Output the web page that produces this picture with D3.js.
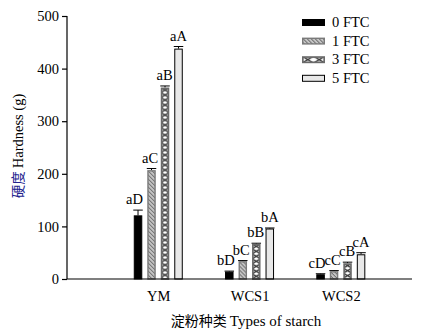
<!DOCTYPE html>
<html><head><meta charset="utf-8">
<script src="https://cdn.jsdelivr.net/npm/d3@7"></script>
<style>body{margin:0;background:#fff}svg{display:block}</style>
</head><body>
<script>
const categories = ["YM", "WCS1", "WCS2"];
const seriesNames = ["0 FTC", "1 FTC", "3 FTC", "5 FTC"];
const ftc0 = [121, 14, 9];
const ftc1 = [207, 34, 15];
const ftc3 = [364, 67, 30];
const ftc5 = [438, 96, 47];
const err0 = [10, 1, 1];
const err1 = [3, 1, 1];
const err3 = [3, 1, 2];
const err5 = [4, 1, 3];
const labels0 = ["aD", "bD", "cD"];
const labels1 = ["aC", "bC", "cC"];
const labels3 = ["aB", "bB", "cB"];
const labels5 = ["aA", "bA", "cA"];
const yTicks = [0, 100, 200, 300, 400, 500];
const yTitleCn = "硬度", yTitleEn = "Hardness (g)";
const xTitleCn = "淀粉种类", xTitleEn = "Types of starch";

const values = [ftc0, ftc1, ftc3, ftc5];
const errs = [err0, err1, err3, err5];
const labs = [labels0, labels1, labels3, labels5];

const W = 432, H = 333;
const svg = d3.select("body").append("svg").attr("width", W).attr("height", H);
const serif = "'Liberation Serif','Times New Roman',serif";
const cjk = "'Noto Sans CJK SC','Noto Sans CJK JP',sans-serif";

const y = d3.scaleLinear().domain([0, 500]).range([279, 16]);
const x = d3.scaleLinear().domain([0, 3.78]).range([67, 412]);
const xi = d3.scaleBand().domain(seriesNames).range([-24.5, 24.5]).paddingInner(0.37);
const bw = xi.bandwidth();
const labelShift = [-3.5, -1.5, -0.5, 0];

const defs = svg.append("defs");
function hatchPattern(id, px, py) {
  const p = defs.append("pattern").attr("id", id).attr("patternUnits", "userSpaceOnUse")
    .attr("x", px).attr("y", py).attr("width", 4).attr("height", 4);
  p.append("rect").attr("width", 4).attr("height", 4).attr("fill", "#c4c4c4");
  p.append("path").attr("d", "M-1,-1L5,5M-1,3L1,5M3,-1L5,1").attr("stroke", "#4a4a4a").attr("stroke-width", 0.9);
}
function crossPattern(id, px, py, w, h) {
  const p = defs.append("pattern").attr("id", id).attr("patternUnits", "userSpaceOnUse")
    .attr("x", px).attr("y", py).attr("width", w).attr("height", h);
  p.append("rect").attr("width", w).attr("height", h).attr("fill", "#fff");
  p.append("path").attr("d", `M0,0L${w},${h}M${w},0L0,${h}`).attr("stroke", "#222").attr("stroke-width", 1.2);
}

const styles = [
  {fill: () => "#000", stroke: "#000", sw: 1},
  {fill: (id) => `url(#${id})`, stroke: "#7a7a7a", sw: 1.4, pat: "hatch"},
  {fill: (id) => `url(#${id})`, stroke: "#6a6a6a", sw: 1.7, pat: "cross"},
  {fill: () => "#e8e8e8", stroke: "#000", sw: 1}
];

const g = svg.append("g");
categories.forEach((c, ci) => {
  seriesNames.forEach((s, si) => {
    const v = values[si][ci], e = errs[si][ci];
    const bx = x(ci + 1) + xi(s);
    const by = y(v);
    const st = styles[si];
    const id = `p${si}_${ci}`;
    if (st.pat === "hatch") hatchPattern(id, bx, by);
    if (st.pat === "cross") crossPattern(id, bx, by, bw, 5);
    const et = y(v + e);
    g.append("line").attr("x1", bx + bw / 2).attr("x2", bx + bw / 2).attr("y1", by).attr("y2", et)
      .attr("stroke", "#000").attr("stroke-width", 1);
    g.append("line").attr("x1", bx - 0.5).attr("x2", bx + bw + 0.5).attr("y1", et).attr("y2", et)
      .attr("stroke", "#000").attr("stroke-width", 1);
    g.append("rect").attr("x", bx + st.sw / 2).attr("y", by + st.sw / 2)
      .attr("width", bw - st.sw).attr("height", Math.max(0, y(0) - by - st.sw / 2))
      .attr("fill", st.fill(id)).attr("stroke", st.stroke).attr("stroke-width", st.sw);
    g.append("text").attr("x", bx + bw / 2 + labelShift[si]).attr("y", et - 6)
      .attr("text-anchor", "middle").attr("font-family", serif).attr("font-size", 14.5)
      .text(labs[si][ci]);
  });
});

// axes
const yAxis = svg.append("g").attr("transform", "translate(67,0)")
  .call(d3.axisLeft(y).tickValues(yTicks).tickSize(5).tickPadding(3).tickFormat(d3.format("d")));
yAxis.select(".domain").attr("stroke", "#000").attr("stroke-width", 1.2).attr("d", `M0,${y(0)}V${y(500)}`);
yAxis.selectAll(".tick line").attr("stroke", "#000").attr("stroke-width", 1.2);
yAxis.selectAll(".tick text").attr("font-family", serif).attr("font-size", 14.5).attr("fill", "#000");

const xAxis = svg.append("g").attr("transform", `translate(0,${y(0)})`)
  .call(d3.axisBottom(x).tickValues([1, 2, 3]).tickSize(0).tickPadding(12).tickFormat(d => categories[d - 1]));
xAxis.select(".domain").attr("stroke", "#000").attr("stroke-width", 1.2).attr("d", `M67,0H412`);
xAxis.selectAll(".tick text").attr("font-family", serif).attr("font-size", 14.5).attr("fill", "#000");

// axis titles
const yt = svg.append("text").attr("transform", "translate(23,146) rotate(-90)").attr("text-anchor", "middle");
yt.append("tspan").attr("font-family", cjk).attr("font-size", 13.5).attr("fill", "#23238e").text(yTitleCn + " ");
yt.append("tspan").attr("font-family", serif).attr("font-size", 14.5).text(yTitleEn);

const xt = svg.append("text").attr("x", 246).attr("y", 326).attr("text-anchor", "middle");
xt.append("tspan").attr("font-family", cjk).attr("font-size", 14).text(xTitleCn + " ");
xt.append("tspan").attr("font-family", serif).attr("font-size", 15).text(xTitleEn);

// legend
const lg = svg.append("g");
seriesNames.forEach((s, si) => {
  const ly = 19 + si * 18.6;
  const st = styles[si];
  const id = `lp${si}`;
  if (st.pat === "hatch") hatchPattern(id, 302, ly);
  if (st.pat === "cross") crossPattern(id, 302, ly, 11.5, 7);
  lg.append("rect").attr("x", 302 + st.sw / 2).attr("y", ly + st.sw / 2).attr("width", 23 - st.sw).attr("height", 7 - st.sw)
    .attr("fill", st.fill(id)).attr("stroke", st.stroke).attr("stroke-width", st.sw);
  lg.append("text").attr("x", 332).attr("y", ly + 8).attr("font-family", serif).attr("font-size", 14.5).text(s);
});
</script>
</body></html>
